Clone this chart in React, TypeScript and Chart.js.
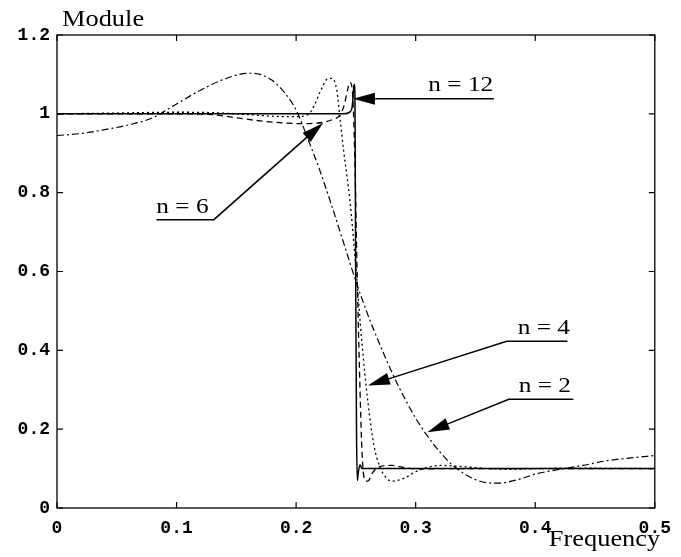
import { useEffect, useRef } from "react";
import { Chart, registerables } from "chart.js";

Chart.register(...registerables);

// Tick labels
const xTickLabels = ["0", "0.1", "0.2", "0.3", "0.4", "0.5"];
const yTickLabels = ["0", "0.2", "0.4", "0.6", "0.8", "1", "1.2"];

// n = 2 (dash-dot)
const n2Freq = [0, 0.02, 0.04, 0.06, 0.08, 0.1, 0.12, 0.14, 0.16, 0.17, 0.18, 0.19, 0.2, 0.21, 0.22, 0.23, 0.24, 0.25, 0.26, 0.27, 0.28, 0.29, 0.3, 0.31, 0.32, 0.33, 0.34, 0.35, 0.36, 0.37, 0.38, 0.39, 0.4, 0.42, 0.44, 0.46, 0.48, 0.5];
const n2Module = [0.945, 0.95, 0.96, 0.972, 0.99, 1.025, 1.06, 1.088, 1.103, 1.1, 1.085, 1.055, 1.01, 0.935, 0.855, 0.765, 0.67, 0.575, 0.49, 0.415, 0.345, 0.283, 0.228, 0.182, 0.143, 0.111, 0.088, 0.072, 0.064, 0.063, 0.068, 0.076, 0.086, 0.098, 0.108, 0.12, 0.127, 0.133];

// n = 4 (dotted)
const n4Freq = [0, 0.05, 0.1, 0.13, 0.16, 0.19, 0.2, 0.21, 0.215, 0.22, 0.226, 0.23, 0.234, 0.237, 0.24, 0.245, 0.25, 0.255, 0.26, 0.265, 0.27, 0.275, 0.28, 0.29, 0.3, 0.31, 0.32, 0.34, 0.36, 0.38, 0.4, 0.43, 0.5];
const n4Module = [1.0, 1.002, 1.004, 1.003, 0.998, 0.993, 0.993, 0.998, 1.02, 1.055, 1.088, 1.09, 1.06, 0.98, 0.9, 0.78, 0.61, 0.42, 0.27, 0.16, 0.105, 0.078, 0.068, 0.075, 0.092, 0.103, 0.108, 0.105, 0.1, 0.098, 0.1, 0.101, 0.1];

// n = 6 (dashed)
const n6Freq = [0, 0.1, 0.13, 0.15, 0.17, 0.19, 0.205, 0.215, 0.222, 0.23, 0.236, 0.24, 0.243, 0.245, 0.247, 0.249, 0.251, 0.253, 0.255, 0.257, 0.26, 0.264, 0.27, 0.28, 0.29, 0.3, 0.33, 0.5];
const n6Module = [1.0, 1.0, 0.998, 0.99, 0.982, 0.977, 0.975, 0.976, 0.978, 0.985, 0.995, 1.02, 1.06, 1.08, 1.06, 0.9, 0.6, 0.35, 0.15, 0.075, 0.068, 0.09, 0.105, 0.108, 0.103, 0.099, 0.1, 0.1];

// n = 12 (solid)
const n12Freq = [0, 0.24, 0.245, 0.247, 0.2485, 0.2492, 0.2498, 0.2505, 0.2512, 0.252, 0.2535, 0.255, 0.257, 0.5];
const n12Module = [1.0, 1.0, 1.005, 1.02, 1.075, 1.05, 0.6, 0.2, 0.07, 0.09, 0.11, 0.1, 0.1, 0.1];

// Annotations (data coordinates)
const annText = ["n = 12", "n = 6", "n = 4", "n = 2"];
const annTextX = [0.3106, 0.0831, 0.3854, 0.3862];
const annTextY = [1.058, 0.749, 0.4405, 0.2937];
const annLineStartX = [0.3654, 0.0831, 0.4269, 0.4319];
const annElbowX = [0.3, 0.1312, 0.3762, 0.3779];
const annLineY = [1.038, 0.7316, 0.4228, 0.2759];
const annTipX = [0.2475, 0.2226, 0.26, 0.3098];
const annTipY = [1.038, 0.977, 0.311, 0.1924];

const toPoints = (fx: number[], fy: number[]) => fx.map((f, i) => ({ x: f, y: fy[i] }));

const SERIF = "'Liberation Serif', 'Times New Roman', serif";

const overlayPlugin = {
  id: "overlay",
  afterDatasetsDraw(chart: any) {
    const { ctx, chartArea, scales } = chart;
    const xs = scales.x;
    const ys = scales.y;
    const { left, right, top, bottom } = chartArea;
    ctx.save();
    ctx.strokeStyle = "#000";
    ctx.fillStyle = "#000";
    ctx.setLineDash([]);
    // box
    ctx.lineWidth = 1.3;
    ctx.strokeRect(left, top, right - left, bottom - top);
    // inward ticks
    ctx.lineWidth = 1.2;
    const tl = 6;
    xTickLabels.forEach((_, i) => {
      const px = xs.getPixelForValue(i * 0.1);
      ctx.beginPath();
      ctx.moveTo(px, bottom);
      ctx.lineTo(px, bottom - tl);
      ctx.moveTo(px, top);
      ctx.lineTo(px, top + tl);
      ctx.stroke();
    });
    yTickLabels.forEach((_, i) => {
      const py = ys.getPixelForValue(i * 0.2);
      ctx.beginPath();
      ctx.moveTo(left, py);
      ctx.lineTo(left + tl, py);
      ctx.moveTo(right, py);
      ctx.lineTo(right - tl, py);
      ctx.stroke();
    });
    // annotation arrows
    ctx.lineWidth = 1.5;
    annText.forEach((_, i) => {
      const sx = xs.getPixelForValue(annLineStartX[i]);
      const ex = xs.getPixelForValue(annElbowX[i]);
      const ly = ys.getPixelForValue(annLineY[i]);
      const tx = xs.getPixelForValue(annTipX[i]);
      const ty = ys.getPixelForValue(annTipY[i]);
      const dx = tx - ex;
      const dy = ty - ly;
      const len = Math.hypot(dx, dy);
      const ux = dx / len;
      const uy = dy / len;
      const hl = 22;
      const hw = 6;
      const bx = tx - ux * hl;
      const by = ty - uy * hl;
      ctx.beginPath();
      ctx.moveTo(sx, ly);
      ctx.lineTo(ex, ly);
      ctx.lineTo(bx + ux * 2, by + uy * 2);
      ctx.stroke();
      ctx.beginPath();
      ctx.moveTo(tx, ty);
      ctx.lineTo(bx - uy * hw, by + ux * hw);
      ctx.lineTo(bx + uy * hw, by - ux * hw);
      ctx.closePath();
      ctx.fill();
    });
    // annotation texts
    ctx.textBaseline = "alphabetic";
    ctx.textAlign = "left";
    ctx.font = `22px ${SERIF}`;
    annText.forEach((t, i) => {
      const px = xs.getPixelForValue(annTextX[i]);
      const py = ys.getPixelForValue(annTextY[i]);
      ctx.save();
      ctx.translate(px, py);
      ctx.scale(1.15, 1);
      ctx.fillText(t, 0, 0);
      ctx.restore();
    });
    // axis titles
    ctx.font = `24px ${SERIF}`;
    ctx.save();
    ctx.translate(left + 5, top - 9);
    ctx.scale(1.1, 1);
    ctx.fillText("Module", 0, 0);
    ctx.restore();
    ctx.save();
    ctx.translate(right - 106, bottom + 38);
    ctx.scale(1.1, 1);
    ctx.fillText("Frequency", 0, 0);
    ctx.restore();
    ctx.restore();
  },
};

export default function App() {
  const ref = useRef<HTMLCanvasElement>(null);
  useEffect(() => {
    if (!ref.current) return;
    const tickFont = { family: "'Liberation Mono', 'DejaVu Sans Mono', monospace", weight: "bold" as const, size: 18 };
    const chart = new Chart(ref.current, {
      type: "line",
      data: {
        datasets: [
          { label: "n = 2", data: toPoints(n2Freq, n2Module), borderColor: "#000", borderWidth: 1.2, borderDash: [7, 3, 2, 3], pointRadius: 0, fill: false, cubicInterpolationMode: "monotone" },
          { label: "n = 4", data: toPoints(n4Freq, n4Module), borderColor: "#000", borderWidth: 1.3, borderDash: [2, 3], pointRadius: 0, fill: false, cubicInterpolationMode: "monotone" },
          { label: "n = 6", data: toPoints(n6Freq, n6Module), borderColor: "#000", borderWidth: 1.3, borderDash: [6, 4], pointRadius: 0, fill: false, cubicInterpolationMode: "monotone" },
          { label: "n = 12", data: toPoints(n12Freq, n12Module), borderColor: "#000", borderWidth: 1.5, pointRadius: 0, fill: false, cubicInterpolationMode: "monotone" },
        ],
      },
      options: {
        animation: false,
        responsive: true,
        maintainAspectRatio: false,
        layout: { padding: { left: 0, top: 35, right: 22, bottom: 0 } },
        plugins: { legend: { display: false }, tooltip: { enabled: false } },
        scales: {
          x: {
            type: "linear",
            min: 0,
            max: 0.5,
            ticks: {
              stepSize: 0.1,
              callback: (v: any) => xTickLabels[Math.round(Number(v) / 0.1)],
              font: tickFont,
              color: "#000",
              padding: 10,
              maxRotation: 0,
              autoSkip: false,
            },
            grid: { display: false, drawTicks: false },
            border: { display: false },
            afterFit: (s: any) => {
              s.height = 49;
            },
          },
          y: {
            type: "linear",
            min: 0,
            max: 1.2,
            ticks: {
              stepSize: 0.2,
              callback: (v: any) => yTickLabels[Math.round(Number(v) / 0.2)],
              font: tickFont,
              color: "#000",
              padding: 7,
              autoSkip: false,
            },
            grid: { display: false, drawTicks: false },
            border: { display: false },
            afterFit: (s: any) => {
              s.width = 57;
            },
          },
        },
      },
      plugins: [overlayPlugin],
    });
    return () => chart.destroy();
  }, []);
  return (
    <div style={{ position: "absolute", left: 0, top: 0, width: 681, height: 557, background: "#fff" }}>
      <canvas ref={ref} />
    </div>
  );
}
